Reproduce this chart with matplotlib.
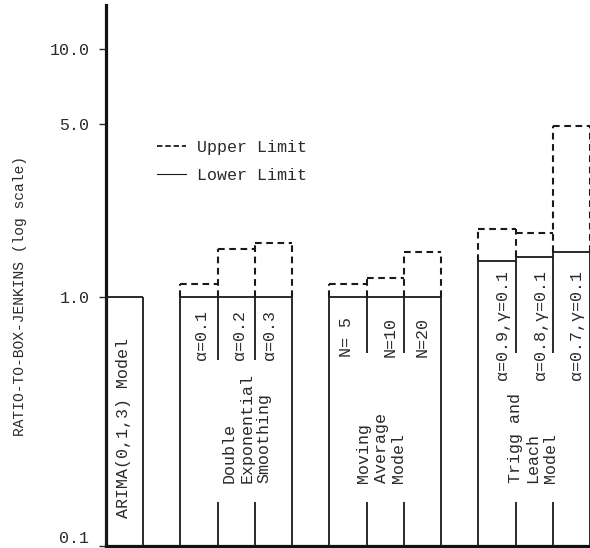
import matplotlib
matplotlib.use("Agg")
import matplotlib.pyplot as plt
from matplotlib.lines import Line2D
from matplotlib.ticker import FixedLocator, FixedFormatter, NullLocator

plt.rcParams['font.family'] = ['Liberation Mono', 'DejaVu Sans Mono']

# Ratio-to-Box-Jenkins lower / upper limits for each model variant
arima_lower = [1.0]
des_lower = [1.0, 1.0, 1.0]
des_upper = [1.13, 1.57, 1.65]
ma_lower = [1.0, 1.0, 1.0]
ma_upper = [1.13, 1.20, 1.52]
tl_lower = [1.40, 1.46, 1.52]
tl_upper = [1.89, 1.81, 4.9]

des_labels = ["α=0.1", "α=0.2", "α=0.3"]
ma_labels = ["N= 5", "N=10", "N=20"]
tl_labels = ["α=0.9,γ=0.1", "α=0.8,γ=0.1", "α=0.7,γ=0.1"]

ytick_values = [0.1, 1.0, 5.0, 10.0]
ytick_labels = ["0.1", "1.0", "5.0", "10.0"]

BASE = 0.1
INK = "#1a1a1a"
TXT = "#2a2a2a"
LW = 1.3
DASH = (0, (3.2, 2.2))

fig = plt.figure(figsize=(5.90, 5.48), dpi=100)
ax = fig.add_axes([106 / 590, 2 / 548, 484 / 590, 541 / 548])
ax.set_yscale("log")
ax.set_ylim(BASE, 15.0)
ax.set_xlim(0, 13)


def draw_group(x0, lowers, uppers=None, gap=None):
    n = len(lowers)
    xs = [x0 + i for i in range(n + 1)]
    # white bars for the lower limits
    ax.bar([x0 + i + 0.5 for i in range(n)], [v - BASE for v in lowers],
           bottom=BASE, width=1.0, color="white", edgecolor="none", zorder=1)
    # outer edges
    ax.vlines([xs[0]], BASE, lowers[0], color=INK, lw=LW, zorder=3,
              clip_on=False)
    ax.vlines([xs[-1]], BASE, lowers[-1], color=INK, lw=LW, zorder=3,
              clip_on=False)
    # tops
    for i, v in enumerate(lowers):
        ax.hlines(v, xs[i], xs[i + 1], color=INK, lw=LW, zorder=3,
                  clip_on=False)
    # inner dividers, broken to leave room for the labels
    for i in range(1, n):
        top = max(lowers[i - 1], lowers[i])
        if gap is None:
            ax.vlines(xs[i], BASE, top, color=INK, lw=LW, zorder=3)
        else:
            ax.vlines(xs[i], gap[0], top, color=INK, lw=LW, zorder=3)
            ax.vlines(xs[i], BASE, gap[1], color=INK, lw=LW, zorder=3)
    if uppers is None:
        return
    # dashed upper-limit outline
    for i, u in enumerate(uppers):
        ax.plot([xs[i], xs[i + 1]], [u, u], color=INK, lw=1.5,
                linestyle=DASH, zorder=2, clip_on=False)
    for i in range(n + 1):
        lo_cands = [lowers[j] for j in (i - 1, i) if 0 <= j < n]
        up_cands = [uppers[j] for j in (i - 1, i) if 0 <= j < n]
        lo, hi = max(lo_cands), max(up_cands)
        ax.plot([xs[i], xs[i]], [lo, hi], color=INK, lw=1.5,
                linestyle=DASH, zorder=2, clip_on=False)


draw_group(0, arima_lower)
draw_group(2, des_lower, des_upper, gap=(0.56, 0.15))
draw_group(6, ma_lower, ma_upper, gap=(0.60, 0.15))
draw_group(10, tl_lower, tl_upper, gap=(0.60, 0.15))

FS = 12
tkw = dict(rotation=90, ha="center", va="bottom", fontsize=FS, color=TXT,
           zorder=4)

ax.text(0.46, 0.130, "ARIMA(0,1,3) Model", **tkw)

for x, s in zip([2.57, 3.59, 4.40], des_labels):
    ax.text(x, 0.56, s, **tkw)
ax.text(3.78, 0.179, "Double\nExponential\nSmoothing", multialignment="left",
        **tkw)

for x, s in zip([6.47, 7.63, 8.49], ma_labels):
    ax.text(x, 0.575, s, **tkw)
ax.text(7.39, 0.179, "Moving\nAverage\nModel", multialignment="left", **tkw)

for x, s in zip([10.66, 11.66, 12.65], tl_labels):
    ax.text(x, 0.466, s, **tkw)
ax.text(11.46, 0.179, "Trigg and\nLeach\nModel", multialignment="left", **tkw)

# axes styling
for side in ("top", "right"):
    ax.spines[side].set_visible(False)
for side in ("left", "bottom"):
    ax.spines[side].set_linewidth(2.3)
    ax.spines[side].set_color("#111111")
ax.set_xticks([])
ax.yaxis.set_major_locator(FixedLocator(ytick_values))
ax.yaxis.set_major_formatter(FixedFormatter(ytick_labels))
ax.yaxis.set_minor_locator(NullLocator())
ax.tick_params(axis="y", length=5, width=1.0, pad=7, labelsize=FS,
               colors=TXT)
fig.canvas.draw()
# lift the bottom tick label so it sits just above the baseline
ax.get_yticklabels()[0].set_verticalalignment("bottom")
ax.set_ylabel("RATIO-TO-BOX-JENKINS (log scale)", fontsize=10.5, color=TXT)
ax.yaxis.set_label_coords(-0.163, 0.462)

handles = [Line2D([], [], color=INK, lw=1.3, linestyle=(0, (3.0, 1.6))),
           Line2D([], [], color=INK, lw=0.8)]
ax.legend(handles, ["Upper Limit", "Lower Limit"], loc="upper left",
          bbox_to_anchor=(0.105, 0.75), frameon=False, fontsize=FS,
          handlelength=1.75, handletextpad=0.65, labelspacing=0.75,
          borderpad=0, borderaxespad=0, labelcolor=TXT)

fig.savefig("out.png", dpi=100)
